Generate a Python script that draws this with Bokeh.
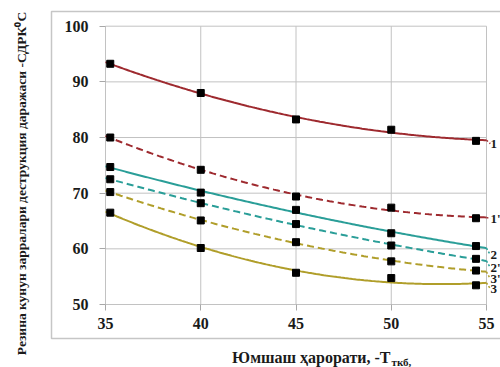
import numpy as np
from bokeh.plotting import figure
from bokeh.models import Label, FixedTicker, Range1d
from bokeh.core.properties import value
from bokeh.embed import file_html
from bokeh.resources import INLINE

# ---- data ----
x_vals = [35.25, 40, 45, 50, 54.45]
s1 = [93.25, 88.0, 83.25, 81.4, 79.4]
s1p = [80.0, 74.2, 69.4, 67.4, 65.5]
s2 = [74.7, 70.1, 67.0, 62.8, 60.5]
s2p = [72.5, 68.2, 64.45, 60.6, 58.2]
s3p = [70.2, 65.1, 61.2, 57.75, 56.1]
s3 = [66.5, 60.15, 55.7, 54.75, 53.45]
series_names = ["1", "1'", "2", "2'", "3'", "3"]
label_y = [78.9, 65.4, 58.9, 56.6, 54.6, 52.8]
x_ticks = [35, 40, 45, 50, 55]
y_ticks = [50, 60, 70, 80, 90, 100]
y_title = "Резина кунун зарралари деструкция даражаси -СДРК⁰С"
x_title_main = "Юмшаш ҳарорати, -T"
x_title_sub = "ткб,"

RED = "#9E2A2F"
TEAL = "#2A9E98"
OLIVE = "#B09E2A"
GRID = "#C2C2C2"
FONT = "Liberation Serif"
TXT = "#1a1a1a"

W, H = 500, 367
# pixel placement of the tick extremes inside the canvas (layout only)
px_x0, px_x1 = 105, 486
px_y0, px_y1 = 304, 25.7   # from top
sx = (px_x1 - px_x0) / (x_ticks[-1] - x_ticks[0])
sy = (px_y0 - px_y1) / (y_ticks[-1] - y_ticks[0])
x0 = x_ticks[0] - px_x0 / sx
x1 = x_ticks[-1] + (W - px_x1) / sx
y0 = y_ticks[0] - (H - px_y0) / sy
y1 = y_ticks[-1] + px_y1 / sy

series = [
    (s1, RED, "solid"),
    (s1p, RED, "7 4"),
    (s2, TEAL, "solid"),
    (s2p, TEAL, "7 4"),
    (s3p, OLIVE, "7 4"),
    (s3, OLIVE, "solid"),
]

p = figure(width=W, height=H, x_range=Range1d(x0, x1), y_range=Range1d(y0, y1),
           output_backend="svg", toolbar_location=None,
           min_border_left=0, min_border_right=0, min_border_top=0, min_border_bottom=0)
p.outline_line_color = None
p.background_fill_color = "white"
p.border_fill_color = "white"
p.grid.visible = False

# chart border box (decoration, placed in canvas pixels)
bl = x0 + 51 / sx
br = x1 + 1
bt = y1 - 11 / sy
bb = y1 - 338 / sy
p.multi_line(xs=[[br, bl, bl, br]], ys=[[bt, bt, bb, bb]],
             line_color="#C6C6C6", line_width=1.5)

# axes fixed at the chart origin
p.xaxis.fixed_location = y_ticks[0]
p.yaxis.fixed_location = x_ticks[0]
p.xaxis.ticker = FixedTicker(ticks=x_ticks)
p.yaxis.ticker = FixedTicker(ticks=y_ticks)
for ax in (p.xaxis, p.yaxis):
    ax.axis_line_color = None
    ax.major_tick_line_color = "#A8A8A8"
    ax.major_tick_out = 6
    ax.major_tick_in = 0
    ax.minor_tick_line_color = None
    ax.major_label_text_font = FONT
    ax.major_label_text_font_style = "bold"
    ax.major_label_text_font_size = "16px"
    ax.major_label_text_color = TXT
p.xaxis.major_label_standoff = 7
p.yaxis.major_label_standoff = 11

# chart-area grid (spans the tick extent only)
p.segment(x0=x_ticks, y0=[y_ticks[0]] * len(x_ticks), x1=x_ticks, y1=[y_ticks[-1]] * len(x_ticks),
          line_color=GRID, line_width=1)
p.segment(x0=[x_ticks[0]] * len(y_ticks), y0=y_ticks, x1=[x_ticks[-1]] * len(y_ticks), y1=y_ticks,
          line_color=GRID, line_width=1)

xs_line = np.linspace(x_ticks[0], x_ticks[-1], 200)
for (ys, col, dash), name, ly in zip(series, series_names, label_y):
    coef = np.polyfit(x_vals, ys, 2)
    fy = np.polyval(coef, xs_line)
    p.line(xs_line, fy, line_color=col, line_width=2, line_dash=dash)
    p.line([x_ticks[-1], x_ticks[-1] + 0.2], [fy[-1], ly], line_color=col,
           line_width=1.5, line_dash="2 2")
    p.scatter(x_vals, ys, marker="square", size=7, fill_color="black", line_color="black")

p.text(x=[x_ticks[-1]] * len(series_names), y=label_y, text=series_names,
       x_offset=4, text_font=value(FONT), text_font_style="bold",
       text_font_size="13px", text_baseline="middle", text_align="left", text_color=TXT)

p.add_layout(Label(x=21, y=183, x_units="canvas", y_units="canvas", text=y_title,
                   angle=np.pi / 2, text_align="center", text_baseline="middle",
                   text_font=FONT, text_font_style="bold", text_font_size="13.5px",
                   text_color=TXT))
p.add_layout(Label(x=390, y=357, x_units="canvas", y_units="canvas", text=x_title_main,
                   text_align="right", text_baseline="alphabetic",
                   text_font=FONT, text_font_style="bold", text_font_size="16px",
                   text_color=TXT))
p.add_layout(Label(x=391, y=361, x_units="canvas", y_units="canvas", text=x_title_sub,
                   text_align="left", text_baseline="alphabetic",
                   text_font=FONT, text_font_style="bold", text_font_size="11px",
                   text_color=TXT))

open("out.html", "w").write(file_html(p, INLINE))
